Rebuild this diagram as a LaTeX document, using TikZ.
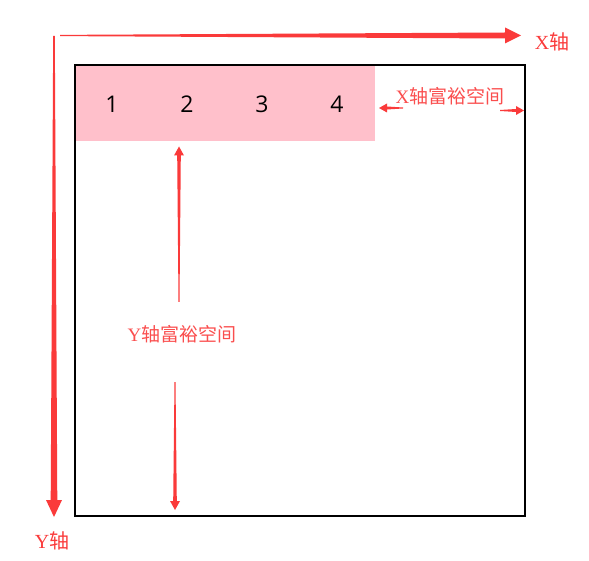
\documentclass[tikz,border=0pt]{standalone}
\usepackage{fontspec}
\setmainfont{Liberation Serif}
\newfontfamily\cjk{Noto Sans CJK SC}
\newfontfamily\numfont{Open Sans}
\usetikzlibrary{calc}
\definecolor{axisred}{RGB}{250,58,58}
\definecolor{boxpink}{RGB}{255,192,203}
% tapered arrow: from, to, tail half width, shaft half width, head length, head half width
\newcommand{\fatarrow}[6]{%
  \coordinate (neck) at ($(#2)!#5!(#1)$);
  \fill[axisred] ($(#1)!#3!90:(#2)$) -- ($(neck)!#4!90:(#2)$) -- ($(neck)!#6!90:(#2)$) -- (#2)
    -- ($(neck)!#6!-90:(#2)$) -- ($(neck)!#4!-90:(#2)$) -- ($(#1)!#3!-90:(#2)$) -- cycle;}
\tikzset{
  axislabel/.style={text=axisred,font=\fontsize{20}{22}\selectfont,inner sep=0pt},
  spacelabel/.style={text=axisred!90,font=\fontsize{19}{21}\selectfont,inner sep=0pt},
  cell/.style={font=\numfont\fontsize{23}{25}\selectfont,inner sep=0pt}
}
\begin{document}
\begin{tikzpicture}[x=1pt,y=-1pt]
  \useasboundingbox (0,0) rectangle (589,561);
  % the box and its first row
  \fill[boxpink] (75.5,66) rectangle (375,141);
  \draw[line width=2pt] (74.5,65) rectangle (525,515.5);
  \foreach \i in {1,...,4}
    \node[cell] (n\i) at ({112+75*(\i-1)},104) {\i};
  % axes
  \coordinate (xs) at (60,35.5);
  \coordinate (xe) at (521,35.5);
  \coordinate (ys) at (54,36);
  \coordinate (ye) at (54,517);
  \fatarrow{xs}{xe}{0.6pt}{3pt}{16pt}{8pt}
  \fatarrow{ys}{ye}{0.8pt}{3.3pt}{17pt}{8pt}
  \node[axislabel] (xlab) at (552,42) {X{\cjk 轴}};
  \node[axislabel] (ylab) at (52,541) {Y{\cjk 轴}};
  % free space
  \node[spacelabel] (xfree) at (450,96) {X{\cjk 轴富裕空间}};
  \node[spacelabel] (yfree) at (182,334) {Y{\cjk 轴富裕空间}};
  \coordinate (xl) at (403,108);
  \coordinate (xlt) at (379,108);
  \coordinate (xr) at (500,110.5);
  \coordinate (xrt) at (524,110.5);
  \fatarrow{xl}{xlt}{0.5pt}{1.5pt}{8pt}{4.5pt}
  \fatarrow{xr}{xrt}{0.5pt}{1.5pt}{8pt}{4.5pt}
  \coordinate (yu) at (179,302);
  \coordinate (yut) at (179,146.5);
  \coordinate (yd) at (175,382);
  \coordinate (ydt) at (175,510);
  \fatarrow{yu}{yut}{0.5pt}{1.8pt}{9pt}{5pt}
  \fatarrow{yd}{ydt}{0.5pt}{1.8pt}{9pt}{5pt}
\end{tikzpicture}
\end{document}
